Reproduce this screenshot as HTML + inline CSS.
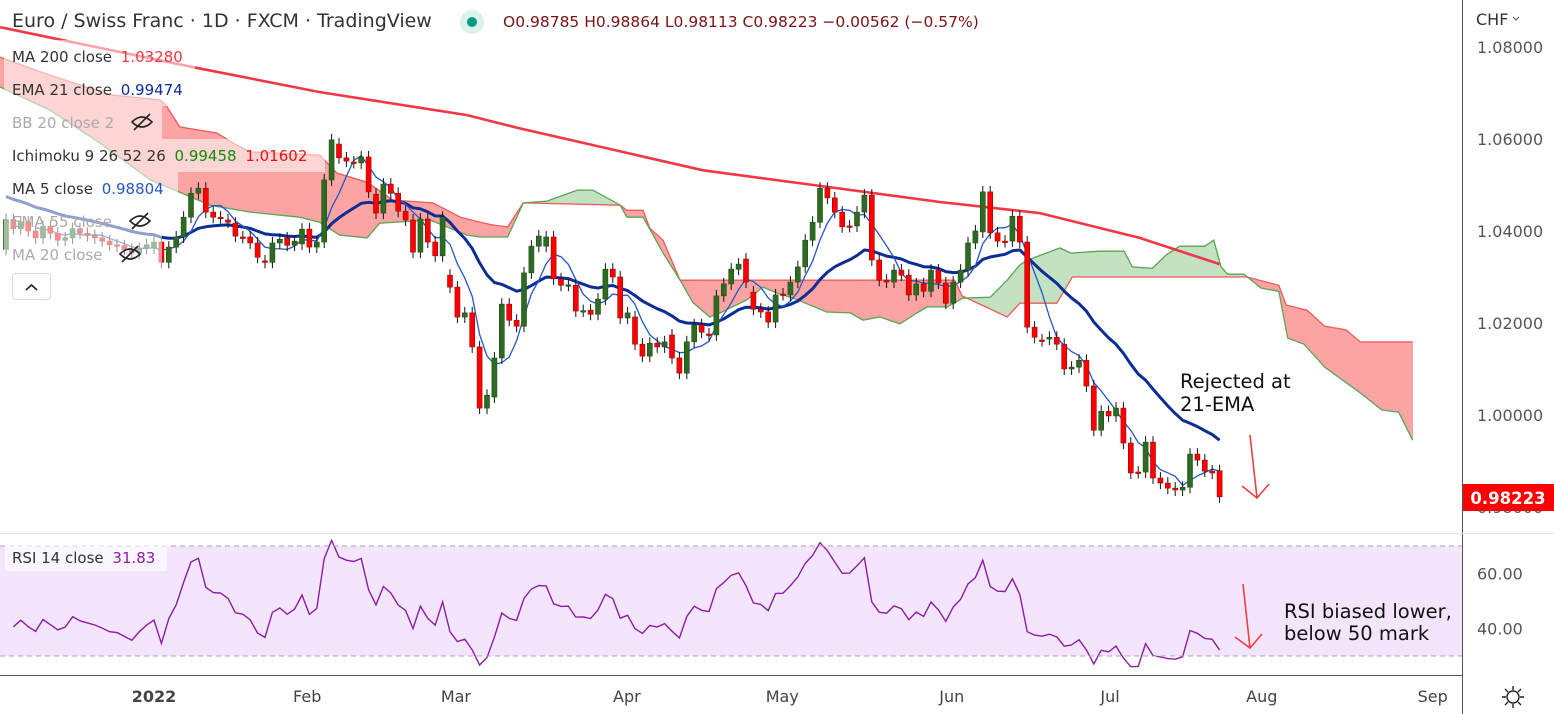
<!DOCTYPE html>
<html><head><meta charset="utf-8">
<style>
html,body{margin:0;padding:0;background:#fff;}
body{position:relative;width:1554px;height:714px;overflow:hidden;}
svg{display:block;font-family:"DejaVu Sans","Liberation Sans",sans-serif;}
</style></head>
<body>
<svg id="chart" width="1554" height="714" viewBox="0 0 1554 714" xmlns="http://www.w3.org/2000/svg">
  <rect x="0" y="0" width="1554" height="714" fill="#ffffff"/>
  <defs><clipPath id="plotClip"><rect x="0" y="0" width="1462" height="533"/></clipPath>
  <clipPath id="rsiClip"><rect x="0" y="534" width="1462" height="141"/></clipPath></defs>
  <rect x="0" y="546" width="1462" height="110" fill="#f3e5fc"/>
  <g id="cloudG" clip-path="url(#plotClip)"></g>
  <g id="maG" clip-path="url(#plotClip)"></g>
  <g id="candleG" clip-path="url(#plotClip)"></g>
  <g id="legendBg"></g>
  <g id="rsiG"></g>
  <g id="axisG"></g>
</svg>
<script>
// ---- data ----
const firstIndex = -20; // bar index of first candle (Jan 3 2022 = 0)
const opens = [1.0360,1.0425,1.0405,1.0420,1.0400,1.0385,1.0410,1.0395,1.0380,1.0385,1.0405,1.0395,1.0390,1.0385,1.0378,1.0370,1.0368,1.0360,1.0352,1.0362,
1.0363,1.0376,1.0332,1.0365,1.0387,1.0430,1.0482,1.0493,1.0441,1.0430,
1.0424,1.0417,1.0387,1.0387,1.0374,1.0335,1.0332,1.0374,1.0385,1.0369,
1.0372,1.0404,1.0365,1.0376,1.0511,1.0589,1.0559,1.0550,1.0548,1.0561,
1.0480,1.0439,1.0502,1.0482,1.0443,1.0424,1.0354,1.0426,1.0376,1.0346,
1.0304,1.0278,1.0213,1.0222,1.0148,1.0015,1.0039,
1.0124,1.0241,1.0206,1.0193,1.0309,1.0367,1.0367,1.0387,1.0296,1.0282,
1.0282,1.0226,1.0228,1.0219,1.0252,1.0317,1.0300,1.0211,1.0213,1.0154,
1.0128,1.0156,1.0148,1.0174,1.0124,1.0091,1.0159,1.0196,1.0176,1.0174,
1.0259,1.0285,1.0317,1.0339,1.0267,1.0230,1.0224,1.0202,1.0263,1.0261,
1.0289,1.0322,1.0380,1.0419,1.0493,1.0472,1.0441,1.0411,1.0411,1.0441,
1.0478,1.0337,1.0293,1.0289,1.0315,1.0304,1.0261,1.0285,1.0269,1.0315,
1.0287,1.0243,1.0289,1.0315,1.0374,
1.0398,1.0485,1.0396,1.0378,1.0378,1.0432,1.0376,1.0191,1.0163,1.0165,
1.0169,1.0154,1.0100,1.0104,1.0119,1.0063,0.9967,1.0008,0.9998,1.0015,
0.9939,0.9876,0.9876,0.9941,0.9863,0.9852,0.9841,0.9837,0.9843,0.9915,
0.9902,0.9878,0.9879];
const closes = [1.0425,1.0405,1.0420,1.0400,1.0385,1.0410,1.0395,1.0380,1.0385,1.0405,1.0395,1.0390,1.0385,1.0378,1.0370,1.0368,1.0360,1.0352,1.0362,1.0370,
1.0376,1.0332,1.0365,1.0387,1.0430,1.0482,1.0493,1.0441,1.0430,1.0429,
1.0419,1.0389,1.0386,1.0374,1.0343,1.0332,1.0374,1.0382,1.0369,1.0378,
1.0404,1.0365,1.0376,1.0511,1.0598,1.0559,1.0552,1.0549,1.0561,1.0485,
1.0439,1.0502,1.0482,1.0443,1.0424,1.0354,1.0426,1.0376,1.0346,1.0430,
1.0278,1.0213,1.0222,1.0148,1.0015,1.0043,1.0124,
1.0241,1.0206,1.0193,1.0309,1.0367,1.0389,1.0387,1.0296,1.0282,1.0283,
1.0226,1.0227,1.0219,1.0252,1.0317,1.0300,1.0211,1.0222,1.0154,1.0128,
1.0156,1.0148,1.0159,1.0124,1.0091,1.0159,1.0196,1.0180,1.0175,1.0259,
1.0285,1.0317,1.0328,1.0289,1.0230,1.0224,1.0202,1.0261,1.0262,1.0289,
1.0322,1.0380,1.0419,1.0493,1.0472,1.0441,1.0409,1.0410,1.0441,1.0478,
1.0337,1.0293,1.0289,1.0315,1.0304,1.0261,1.0285,1.0269,1.0315,1.0287,
1.0243,1.0289,1.0315,1.0374,1.0400,
1.0485,1.0396,1.0378,1.0377,1.0432,1.0376,1.0191,1.0169,1.0162,1.0169,
1.0154,1.0100,1.0104,1.0119,1.0063,0.9967,1.0008,0.9998,1.0015,0.9939,
0.9874,0.9875,0.9941,0.9863,0.9852,0.9841,0.9837,0.9843,0.9915,0.9902,
0.9878,0.9874,0.9822];
const emaSeed = 1.0480;
const rsiSeedGain = 0.0012, rsiSeedLoss = 0.0016;
const ma200Idx = [-20.8,5.3,22.4,42.3,49.2,74.2,89.1,106.2,119.7,133.2,144];
const ma200Val = [1.0843,1.0756,1.0702,1.0652,1.0624,1.0532,1.0500,1.0463,1.0439,1.0385,1.0328];
const spanBIdx = [-20.8,-14.1,-5.9,0.8,1.5,3.5,8.5,10.7,13.0,22.4,24.7,28.8,32.3,37.7,41.4,44.1,45.8,47.8,49.9,63.0,63.9,66.1,67.0,68.8,71.1,108.2,109.2,115.3,117.0,122.0,124.1,147.7,152.0,153.0,155.8,158.2,161.1,163.0,170.1];
const spanBVal = [1.0778,1.0739,1.0696,1.0685,1.0676,1.0626,1.0613,1.0591,1.0572,1.0565,1.0526,1.0506,1.0467,1.0461,1.0430,1.0419,1.0413,1.0409,1.0461,1.0456,1.0445,1.0445,1.0406,1.0380,1.0293,1.0293,1.0259,1.0213,1.0243,1.0243,1.0300,1.0300,1.0282,1.0239,1.0228,1.0193,1.0185,1.0159,1.0159];
const spanAIdx = [-20.8,-14.1,-7.3,-0.5,2.8,7.6,13.0,19.7,22.4,25.1,28.8,30.5,37.3,42.3,44.1,47.8,49.9,53.1,57.2,59.3,63.0,63.9,66.1,68.8,71.1,72.8,75.1,76.5,80.1,82.3,84.2,86.4,90.9,94.1,95.8,98.1,100.8,103.1,104.5,107.2,109.3,113.0,115.3,117.0,118.1,122.4,123.9,127.7,131.1,132.2,134.9,136.8,138.6,142.0,143.2,144.2,145.1,147.3,149.6,152.0,153.2,155.4,158.2,163.0,165.9,168.2,170.1];
const spanAVal = [1.0713,1.0663,1.0591,1.0511,1.0489,1.0456,1.0441,1.0430,1.0419,1.0391,1.0385,1.0417,1.0424,1.0391,1.0387,1.0387,1.0461,1.0465,1.0489,1.0489,1.0456,1.0430,1.0430,1.0352,1.0293,1.0245,1.0213,1.0222,1.0250,1.0278,1.0265,1.0254,1.0224,1.0222,1.0206,1.0213,1.0198,1.0222,1.0235,1.0235,1.0254,1.0256,1.0293,1.0326,1.0337,1.0363,1.0352,1.0356,1.0356,1.0322,1.0319,1.0348,1.0367,1.0367,1.0380,1.0322,1.0306,1.0306,1.0276,1.0269,1.0167,1.0154,1.0104,1.0048,1.0011,1.0006,0.9945];
const priceTicks = [1.08,1.06,1.04,1.02,1.00,0.98];
const rsiTicks = [60,40];
const timeLabels = ["2022","Feb","Mar","Apr","May","Jun","Jul","Aug","Sep"];
const timeIdx = [0,20.7,40.8,63.9,84.9,107.8,129.2,149.7,172.8];

// ---- scales ----
const NS="http://www.w3.org/2000/svg";
const xOf = i => 154 + i*7.4;
const yOf = p => 47 + (1.08 - p)*4600;
const rY = r => 656 - (r-30)*2.75;
function mk(tag, attrs, parent){const e=document.createElementNS(NS,tag);for(const k in attrs)e.setAttribute(k,attrs[k]);parent.appendChild(e);return e;}
function interp(xs, vs, x){ if(x<=xs[0])return vs[0]; for(let k=1;k<xs.length;k++){ if(x<=xs[k]){const t=(x-xs[k-1])/(xs[k]-xs[k-1]); return vs[k-1]+t*(vs[k]-vs[k-1]);} } return vs[vs.length-1]; }

// ---- cloud ----
const cloudG=document.getElementById('cloudG');
const c0=-20.8, c1=170.1, step=0.25;
for(let t=c0;t<c1;t+=step){
  const t2=Math.min(t+step,c1);
  const a1=interp(spanAIdx,spanAVal,t), a2=interp(spanAIdx,spanAVal,t2);
  const b1=interp(spanBIdx,spanBVal,t), b2=interp(spanBIdx,spanBVal,t2);
  const green=(a1+a2)>=(b1+b2);
  const q=mk('polygon',{points:`${xOf(t)},${yOf(a1)} ${xOf(t2)+0.3},${yOf(a2)} ${xOf(t2)+0.3},${yOf(b2)} ${xOf(t)},${yOf(b1)}`,fill:green?'#c3e2c1':'#fca3a3'},cloudG);
  
  
}
function pathFrom(xs,vs){return xs.map((x,k)=>(k?'L':'M')+xOf(x).toFixed(1)+','+yOf(vs[k]).toFixed(1)).join(' ');}
const sb=mk('path',{d:pathFrom(spanBIdx,spanBVal),fill:'none',stroke:'#f05a5a','stroke-width':1.3},cloudG);


const sa=mk('path',{d:pathFrom(spanAIdx,spanAVal),fill:'none',stroke:'#5aa452','stroke-width':1.3},cloudG);



// ---- moving averages ----
const maG=document.getElementById('maG');
const m200=mk('path',{d:pathFrom(ma200Idx,ma200Val),fill:'none',stroke:'#f23645','stroke-width':2.6},maG);


let ema=emaSeed; const emaPts=[]; const k21=2/22;
closes.forEach((c,j)=>{ema=c*k21+ema*(1-k21); emaPts.push([xOf(firstIndex+j),yOf(ema)]);});
const emaL=mk('path',{d:emaPts.map((p,k)=>(k?'L':'M')+p[0].toFixed(1)+','+p[1].toFixed(1)).join(' '),fill:'none',stroke:'#0c2c96','stroke-width':3,'stroke-linejoin':'round'},maG);


const ma5Pts=[];
for(let j=4;j<closes.length;j++){let s=0;for(let q=j-4;q<=j;q++)s+=closes[q]; ma5Pts.push([xOf(firstIndex+j),yOf(s/5)]);}
const ma5L=mk('path',{d:ma5Pts.map((p,k)=>(k?'L':'M')+p[0].toFixed(1)+','+p[1].toFixed(1)).join(' '),fill:'none',stroke:'#2457c5','stroke-width':1.3},maG);



// ---- candles ----
const candleG=document.getElementById('candleG');
closes.forEach((c,j)=>{
  const o=opens[j], x=xOf(firstIndex+j);
  const up=c>=o, top=yOf(Math.max(o,c)), bot=yOf(Math.min(o,c));
  const w=mk('line',{x1:x,x2:x,y1:top-6,y2:bot+6,stroke:'#111','stroke-width':1},candleG);
  
  
  const b=mk('rect',{x:x-2.5,y:top,width:5,height:Math.max(1.5,bot-top),fill:up?'#2e6b22':'#ff0000',stroke:up?'#1f4d17':'#a00000','stroke-width':0.6},candleG);
  
  
});

// ---- legend backdrops ----
const lb=document.getElementById('legendBg');
[[40,195],[73,195],[106,162],[139,325],[172,178],[205,162],[238,162]].forEach(r=>{
  const e=mk('rect',{x:4,y:r[0],width:r[1]-4,height:33,fill:'#ffffff','fill-opacity':0.55},lb);
  
  
});

// ---- RSI ----
const rsiG=document.getElementById('rsiG');
let ag=rsiSeedGain, al=rsiSeedLoss; const rsiPts=[];
for(let j=1;j<closes.length;j++){
  const d=closes[j]-closes[j-1];
  ag=(ag*13+Math.max(d,0))/14; al=(al*13+Math.max(-d,0))/14;
  const r=100-100/(1+ag/al);
  rsiPts.push([xOf(firstIndex+j),rY(r)]);
}
const rl=mk('path',{d:rsiPts.map((p,k)=>(k?'L':'M')+p[0].toFixed(1)+','+p[1].toFixed(1)).join(' '),fill:'none',stroke:'#8e1ca8','stroke-width':1.4,'clip-path':'url(#rsiClip)'},rsiG);



// ---- axes ----
const axisG=document.getElementById('axisG');
priceTicks.forEach(p=>{
  const t=mk('text',{x:1477,y:yOf(p)+6,'font-size':16,fill:'#555','font-family':'DejaVu Sans, sans-serif'},axisG);
  t.textContent=p.toFixed(5);
  
  
});
rsiTicks.forEach(r=>{
  const t=mk('text',{x:1477,y:rY(r)+6,'font-size':16,fill:'#555'},axisG);
  t.textContent=r.toFixed(2);
  
  
});
timeLabels.forEach((s,k)=>{
  const t=mk('text',{x:xOf(timeIdx[k]),y:702,'font-size':16,fill:'#444','text-anchor':'middle','font-weight':s==='2022'?'bold':'normal'},axisG);
  t.textContent=s;
  
  
});
</script>
<svg style="position:absolute;left:0;top:0" width="1554" height="714" viewBox="0 0 1554 714">
  <line x1="0" y1="546" x2="1462" y2="546" stroke="#aaa" stroke-dasharray="5,4"/>
  <line x1="0" y1="656" x2="1462" y2="656" stroke="#aaa" stroke-dasharray="5,4"/>
  <line x1="0" y1="533.5" x2="1462" y2="533.5" stroke="#e0e3eb" stroke-width="1"/>
  <line x1="0" y1="675.5" x2="1462" y2="675.5" stroke="#555" stroke-width="1"/>
  <line x1="1462.5" y1="0" x2="1462.5" y2="714" stroke="#555" stroke-width="1"/>
  <line x1="1462" y1="533.5" x2="1554" y2="533.5" stroke="#e0e3eb"/>

  <!-- header -->
  <text x="12" y="27" font-size="19" fill="#333" font-family="DejaVu Sans, sans-serif">Euro / Swiss Franc · 1D · FXCM · TradingView</text>
  <circle cx="472" cy="22" r="12" fill="#d9f2ec"/>
  <circle cx="472" cy="22" r="5" fill="#089981"/>
  <text x="503" y="27" font-size="15.5" fill="#7a1414" font-family="DejaVu Sans, sans-serif">O0.98785 H0.98864 L0.98113 C0.98223 −0.00562 (−0.57%)</text>

  <!-- legend -->
  <g font-size="15" font-family="DejaVu Sans, sans-serif">
    <text x="12" y="62" fill="#333">MA 200 close <tspan fill="#f23645" dx="4">1.03280</tspan></text>
    <text x="12" y="95" fill="#333">EMA 21 close <tspan fill="#0c2c96" dx="4">0.99474</tspan></text>
    <text x="12" y="128" fill="#aaa">BB 20 close 2</text>
    <text x="12" y="161" fill="#333">Ichimoku 9 26 52 26 <tspan fill="#138a07" dx="4">0.99458</tspan> <tspan fill="#f01010" dx="4">1.01602</tspan></text>
    <text x="12" y="194" fill="#333">MA 5 close <tspan fill="#2457c5" dx="4">0.98804</tspan></text>
    <text x="12" y="227" fill="#aaa">EMA 55 close</text>
    <text x="12" y="260" fill="#aaa">MA 20 close</text>
    <g stroke="#222" stroke-width="1.6" fill="none">
      <path d="M132 122 q10 -10 20 0 q-10 10 -20 0 z M134 130 L150 114"/>
      <path d="M130 221 q10 -10 20 0 q-10 10 -20 0 z M132 229 L148 213"/>
      <path d="M120 254 q10 -10 20 0 q-10 10 -20 0 z M122 262 L138 246"/>
    </g>
    <rect x="12.5" y="273.5" width="38" height="26" rx="3" fill="#fff" stroke="#ddd"/>
    <path d="M26 290 L31.5 285 L37 290" stroke="#222" stroke-width="1.6" fill="none"/>
  </g>

  <!-- price axis extras -->
  <text x="1476" y="25" font-size="16" fill="#333" font-family="DejaVu Sans, sans-serif">CHF</text>
  <path d="M1513 17 l3 3 l3 -3" stroke="#555" fill="none"/>
  <rect x="1463" y="484" width="91" height="27" fill="#ff0000"/>
  <text x="1508" y="504" font-size="16.5" font-weight="bold" fill="#fff" text-anchor="middle" font-family="DejaVu Sans, sans-serif">0.98223</text>

  <!-- RSI legend -->
  <rect x="5" y="544" width="162" height="27" fill="#ffffff" fill-opacity="0.6"/>
  <text x="12" y="563" font-size="15" fill="#333" font-family="DejaVu Sans, sans-serif">RSI 14 close <tspan fill="#8e1ca8" dx="4">31.83</tspan></text>

  <!-- annotations -->
  <text font-size="19.5" fill="#111" font-family="DejaVu Sans, sans-serif"><tspan x="1180" y="388">Rejected at</tspan><tspan x="1180" y="411">21-EMA</tspan></text>
  <g stroke="#f04040" stroke-width="1.6" fill="none">
    <path d="M1250 435 L1257 498"/><path d="M1242 486 L1257 498 L1269 484"/>
  </g>
  <text font-size="19.5" fill="#111" font-family="DejaVu Sans, sans-serif"><tspan x="1284" y="618">RSI biased lower,</tspan><tspan x="1284" y="640">below 50 mark</tspan></text>
  <g stroke="#f04040" stroke-width="1.6" fill="none">
    <path d="M1243 584 L1250 648"/><path d="M1235 637 L1250 648 L1262 634"/>
  </g>

  <!-- settings icon -->
  <g stroke="#222" stroke-width="1.4" fill="none">
    <circle cx="1513" cy="697" r="6"/>
    <path d="M1513 686 v4 M1513 704 v4 M1502 697 h4 M1520 697 h4 M1505 689 l3 3 M1518 702 l3 3 M1521 689 l-3 3 M1508 702 l-3 3"/>
  </g>
</svg>
</body></html>
